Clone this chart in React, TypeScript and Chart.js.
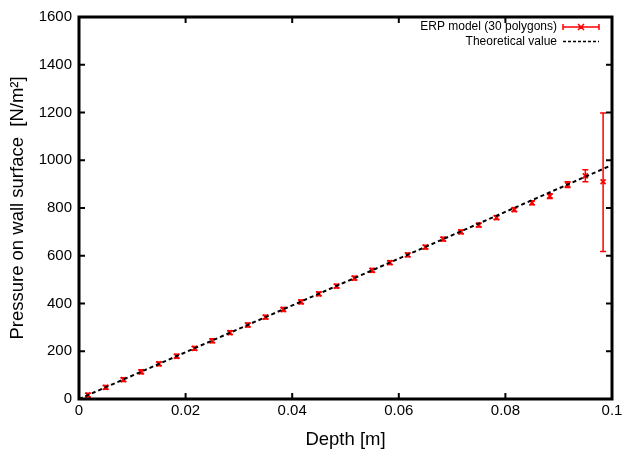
import React, { useEffect, useRef } from 'react';
import { Chart, registerables } from 'chart.js';

Chart.register(...registerables);

// ---- data ----
const depthM = [
  0.00167, 0.005, 0.00833, 0.01167, 0.015, 0.01833, 0.02167, 0.025, 0.02833, 0.03167,
  0.035, 0.03833, 0.04167, 0.045, 0.04833, 0.05167, 0.055, 0.05833, 0.06167, 0.065,
  0.06833, 0.07167, 0.075, 0.07833, 0.08167, 0.085, 0.08833, 0.09167, 0.095, 0.09833,
];
const pressure = [
  16, 49, 81, 114, 147, 179, 212, 244, 278, 310,
  343, 375, 407, 440, 473, 506, 539, 571, 604, 636,
  670, 700, 728, 760, 793, 822, 850, 898, 935, 910,
];
const errorPlus = [
  8, 8, 8, 8, 8, 8, 8, 8, 8, 8,
  8, 8, 8, 8, 8, 8, 8, 8, 8, 8,
  8, 8, 8, 8, 8, 8, 10, 12, 25, 288,
];
const errorMinus = [
  8, 8, 8, 8, 8, 8, 8, 8, 8, 8,
  8, 8, 8, 8, 8, 8, 8, 8, 8, 8,
  8, 8, 8, 8, 8, 8, 10, 12, 25, 292,
];
const theoryDepth = [0, 0.1];
const theoryPressure = [0, 980];
const xTicks = [0, 0.02, 0.04, 0.06, 0.08, 0.1];
const yTicks = [0, 200, 400, 600, 800, 1000, 1200, 1400, 1600];
const seriesLabels = ['ERP model (30 polygons)', 'Theoretical value'];
const xTitle = 'Depth [m]';
const yTitle = 'Pressure on wall surface  [N/m\u00b2]';

const RED = '#ff0000';
const FONT = "'Liberation Sans', Arial, Helvetica, sans-serif";

const gnuplotLook = {
  id: 'gnuplotLook',
  beforeDatasetsDraw(chart: any) {
    const { ctx, scales } = chart;
    const x = scales.x;
    const y = scales.y;
    ctx.save();
    ctx.strokeStyle = RED;
    ctx.lineWidth = 1.5;
    depthM.forEach((d, i) => {
      const px = x.getPixelForValue(d);
      const top = y.getPixelForValue(pressure[i] + errorPlus[i]);
      const bot = y.getPixelForValue(pressure[i] - errorMinus[i]);
      ctx.beginPath();
      ctx.moveTo(px, top);
      ctx.lineTo(px, bot);
      ctx.moveTo(px - 3, top);
      ctx.lineTo(px + 3, top);
      ctx.moveTo(px - 3, bot);
      ctx.lineTo(px + 3, bot);
      ctx.stroke();
    });
    ctx.restore();
  },
  afterDraw(chart: any) {
    const { ctx, chartArea, scales } = chart;
    const x = scales.x;
    const y = scales.y;
    const { left, right, top, bottom } = chartArea;
    ctx.save();
    // ticks (inward, mirrored)
    ctx.strokeStyle = '#000';
    ctx.lineWidth = 2;
    const tl = 6;
    ctx.beginPath();
    xTicks.forEach((v) => {
      const px = x.getPixelForValue(v);
      ctx.moveTo(px, bottom);
      ctx.lineTo(px, bottom - tl);
      ctx.moveTo(px, top);
      ctx.lineTo(px, top + tl);
    });
    yTicks.forEach((v) => {
      const py = y.getPixelForValue(v);
      ctx.moveTo(left, py);
      ctx.lineTo(left + tl, py);
      ctx.moveTo(right, py);
      ctx.lineTo(right - tl, py);
    });
    ctx.stroke();
    // frame
    ctx.lineWidth = 3;
    ctx.strokeRect(left, top, right - left, bottom - top);

    // legend
    ctx.font = `12px ${FONT}`;
    ctx.fillStyle = '#000';
    ctx.textAlign = 'right';
    ctx.textBaseline = 'middle';
    const textRight = 557;
    const s0 = 563;
    const s1 = 599;
    const row1 = 27;
    const row2 = 41.5;
    ctx.fillText(seriesLabels[0], textRight, row1);
    ctx.fillText(seriesLabels[1], textRight, row2);
    // sample 1: red line with caps and cross
    ctx.strokeStyle = RED;
    ctx.lineWidth = 1.5;
    ctx.beginPath();
    ctx.moveTo(s0, row1);
    ctx.lineTo(s1, row1);
    ctx.moveTo(s0, row1 - 3);
    ctx.lineTo(s0, row1 + 3);
    ctx.moveTo(s1, row1 - 3);
    ctx.lineTo(s1, row1 + 3);
    const cx = (s0 + s1) / 2;
    ctx.moveTo(cx - 3, row1 - 3);
    ctx.lineTo(cx + 3, row1 + 3);
    ctx.moveTo(cx - 3, row1 + 3);
    ctx.lineTo(cx + 3, row1 - 3);
    ctx.stroke();
    // sample 2: dashed black
    ctx.strokeStyle = '#000';
    ctx.lineWidth = 1.5;
    ctx.setLineDash([3, 2]);
    ctx.beginPath();
    ctx.moveTo(s0, row2);
    ctx.lineTo(s1, row2);
    ctx.stroke();
    ctx.restore();
  },
};

export default function App() {
  const ref = useRef<HTMLCanvasElement | null>(null);

  useEffect(() => {
    if (!ref.current) return;
    Chart.defaults.font.family = FONT;
    Chart.defaults.color = '#000';
    const chart = new Chart(ref.current, {
      type: 'scatter',
      data: {
        datasets: [
          {
            label: seriesLabels[1],
            data: theoryDepth.map((d, i) => ({ x: d, y: theoryPressure[i] })),
            showLine: true,
            borderColor: '#000',
            borderWidth: 2,
            borderDash: [4, 3],
            pointRadius: 0,
            fill: false,
          },
          {
            label: seriesLabels[0],
            data: depthM.map((d, i) => ({ x: d, y: pressure[i] })),
            showLine: false,
            pointStyle: 'crossRot',
            pointRadius: 3.5,
            borderColor: RED,
            backgroundColor: RED,
            borderWidth: 1.8,
          },
        ],
      },
      options: {
        responsive: false,
        animation: false,
        events: [],
        layout: { padding: { top: 17, right: 10, left: 0, bottom: 0 }, autoPadding: false },
        plugins: { legend: { display: false }, tooltip: { enabled: false } },
        scales: {
          x: {
            type: 'linear',
            min: 0,
            max: 0.1,
            afterBuildTicks: (s: any) => {
              s.ticks = xTicks.map((v) => ({ value: v }));
            },
            ticks: {
              font: { size: 15 },
              color: '#000',
              padding: 3,
              maxRotation: 0,
              autoSkip: false,
              callback: (v: any) => String(Number(Number(v).toFixed(3))),
            },
            grid: { display: false, drawTicks: false },
            border: { display: false },
            title: {
              display: true,
              text: xTitle,
              font: { size: 18.5 },
              color: '#000',
              padding: { top: 0, bottom: 4 },
            },
            afterFit: (s: any) => {
              s.height = 56;
              s.paddingLeft = 0;
              s.paddingRight = 0;
            },
          },
          y: {
            type: 'linear',
            min: 0,
            max: 1600,
            afterBuildTicks: (s: any) => {
              s.ticks = yTicks.map((v) => ({ value: v }));
            },
            ticks: {
              font: { size: 15 },
              color: '#000',
              padding: 7,
              autoSkip: false,
              callback: (v: any) => String(v),
            },
            grid: { display: false, drawTicks: false },
            border: { display: false },
            title: {
              display: true,
              text: yTitle,
              font: { size: 18.5 },
              color: '#000',
              padding: { top: 7, bottom: 0 },
            },
            afterFit: (s: any) => {
              s.width = 79;
              s.paddingTop = 0;
              s.paddingBottom = 0;
            },
          },
        },
      },
      plugins: [gnuplotLook],
    } as any);
    return () => chart.destroy();
  }, []);

  return (
    <div style={{ position: 'absolute', left: 0, top: 0, width: 622, height: 455, background: '#fff' }}>
      <canvas ref={ref} width={622} height={455} style={{ display: 'block' }} />
    </div>
  );
}
